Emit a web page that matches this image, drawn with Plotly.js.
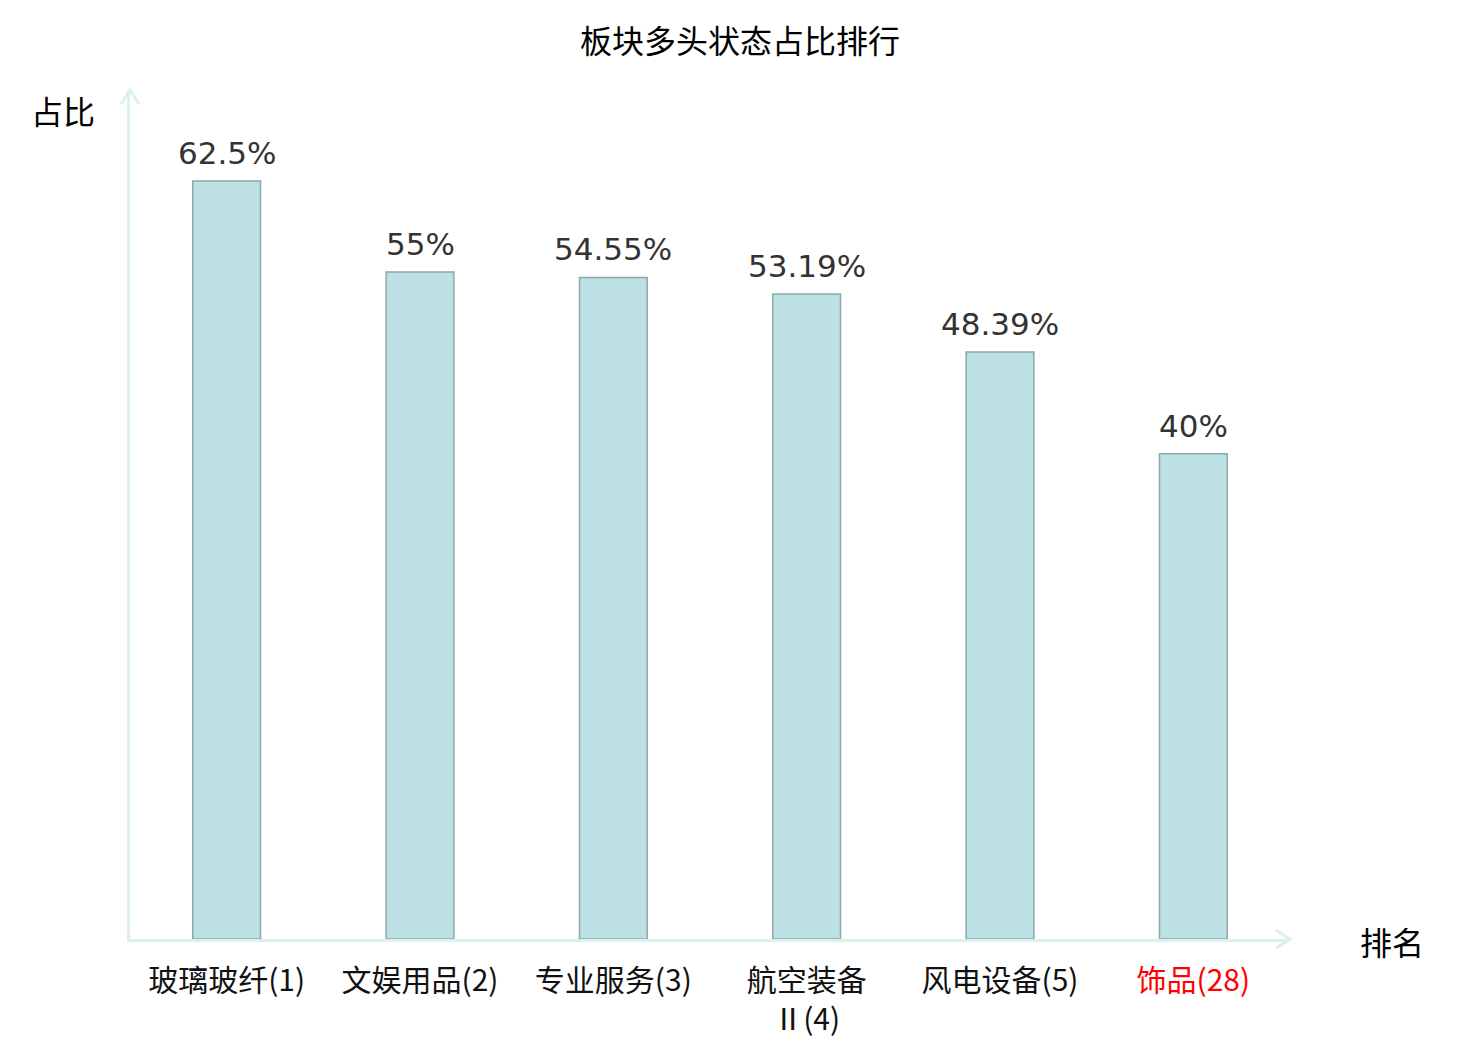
<!DOCTYPE html>
<html>
<head>
<meta charset="utf-8">
<script src="https://cdn.plot.ly/plotly-3.0.1.min.js"></script>
<style>
  html, body { margin: 0; padding: 0; background: #fff; }
  #chart { width: 1480px; height: 1040px; }
</style>
</head>
<body>
<div id="chart"></div>
<script>
var categories = ['玻璃玻纤(1)', '文娱用品(2)', '专业服务(3)', '航空装备<br>Ⅱ(4)', '风电设备(5)', '饰品(28)'];
var values = [62.5, 55, 54.55, 53.19, 48.39, 40];
var highlight = '饰品(28)';

var axisColor = '#dcf1ee';
var cjk = '"Noto Sans CJK SC", "Noto Sans", sans-serif';

var ticktext = categories.map(function(c) {
    return c === highlight ? '<span style="color:#ff0000">' + c + '</span>' : c;
});

var trace = {
    x: categories,
    y: values,
    type: 'bar',
    width: 0.35,
    marker: {
        color: '#bce0e3',
        line: { color: '#8aa9aa', width: 1.5 }
    },
    hoverinfo: 'x+y'
};

// value labels above the bars
var annotations = categories.map(function(c, i) {
    return {
        x: c, y: values[i], xref: 'x', yref: 'y',
        text: values[i] + '%',
        xanchor: 'center', yanchor: 'bottom', yshift: 8,
        showarrow: false,
        font: { family: '"DejaVu Sans", sans-serif', size: 31, color: '#333333' }
    };
});

annotations.push({
    text: '占比', xref: 'paper', yref: 'paper',
    x: (63 - 130) / 1160, y: (939 - 110) / 849,
    xanchor: 'center', yanchor: 'middle', showarrow: false,
    font: { family: cjk, size: 32, color: '#000000' }
});
annotations.push({
    text: '排名', xref: 'paper', yref: 'paper',
    x: (1392 - 130) / 1160, y: (939 - 941) / 849,
    xanchor: 'center', yanchor: 'middle', showarrow: false,
    font: { family: cjk, size: 32, color: '#000000' }
});

var layout = {
    width: 1480,
    height: 1040,
    margin: { l: 130, r: 190, t: 90, b: 101 },
    paper_bgcolor: '#ffffff',
    plot_bgcolor: '#ffffff',
    showlegend: false,
    title: {
        text: '板块多头状态占比排行',
        font: { family: cjk, size: 32, color: '#000000' },
        xref: 'container', x: 0.5, xanchor: 'center',
        yref: 'container', y: 1 - 42 / 1040, yanchor: 'middle'
    },
    xaxis: {
        type: 'category',
        range: [-0.5, 5.5],
        tickvals: categories,
        ticktext: ticktext,
        tickangle: 0,
        ticks: 'outside',
        ticklen: 13,
        tickcolor: 'rgba(0,0,0,0)',
        tickfont: { family: cjk, size: 30, color: '#111111' },
        showline: true,
        linecolor: axisColor,
        linewidth: 3,
        showgrid: false,
        zeroline: false,
        fixedrange: true
    },
    yaxis: {
        range: [0, 70],
        showticklabels: false,
        ticks: '',
        showline: true,
        linecolor: axisColor,
        linewidth: 3,
        showgrid: false,
        zeroline: false,
        fixedrange: true
    },
    shapes: [
        {
            type: 'path', xref: 'paper', yref: 'paper',
            xsizemode: 'pixel', ysizemode: 'pixel',
            xanchor: 1, yanchor: 0,
            path: 'M -14 9 L 0 0 L -14 -9',
            line: { color: axisColor, width: 3 }
        },
        {
            type: 'path', xref: 'paper', yref: 'paper',
            xsizemode: 'pixel', ysizemode: 'pixel',
            xanchor: 0, yanchor: 1,
            path: 'M -9 -14 L 0 0 L 9 -14',
            line: { color: axisColor, width: 3 }
        }
    ],
    annotations: annotations
};

Plotly.newPlot('chart', [trace], layout, { displayModeBar: false, staticPlot: true });
</script>
</body>
</html>
